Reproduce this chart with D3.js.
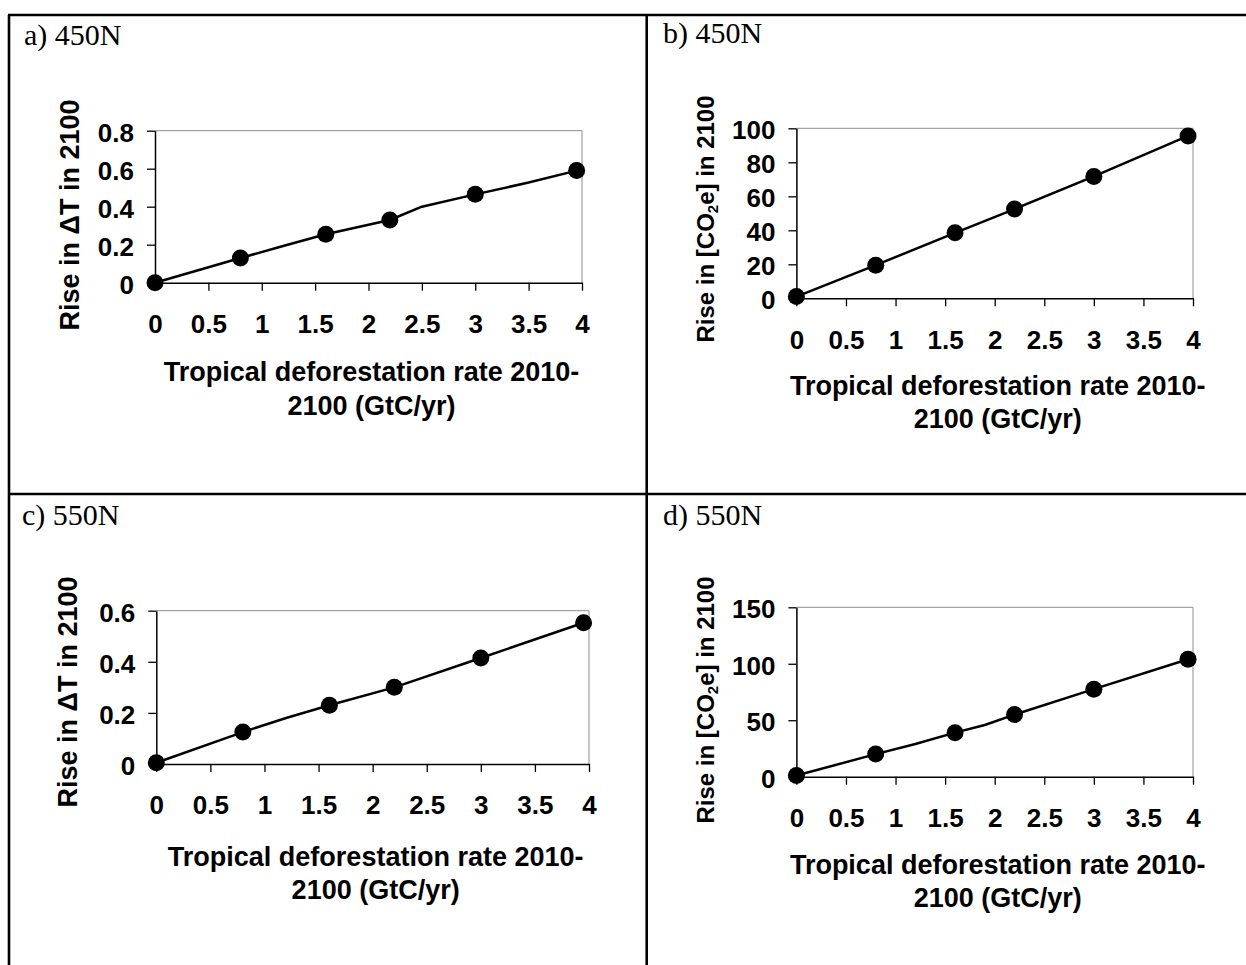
<!DOCTYPE html>
<html>
<head>
<meta charset="utf-8">
<script src="https://cdn.jsdelivr.net/npm/d3@7"></script>
<style>
  body { margin: 0; background: #fff; }
  svg { display: block; }
</style>
</head>
<body>
<div id="chart"></div>
<script>
// Deforestation rate vs. rise in temperature / CO2e, 450N and 550N scenarios

const RATE = [0, 0.8, 1.6, 2.2, 3, 3.95];
const DT_450N  = [0, 0.13, 0.255, 0.33, 0.465, 0.59];
const CO2_450N = [1, 19.5, 38.5, 52.5, 71.7, 95.5];
const DT_550N  = [0.005, 0.125, 0.23, 0.30, 0.415, 0.553];
const CO2_550N = [1, 20, 39, 55, 77.5, 104];

// bends of the drawn line between markers [rate, value]
const BENDS_DT_450N  = [[1.2, 0.193], [2.5, 0.4], [3.5, 0.527]];
const BENDS_CO2_450N = [];
const BENDS_DT_550N  = [[1.2, 0.18]];
const BENDS_CO2_550N = [[1.2, 28.9], [1.9, 45.8]];

const X_TICKS = [0, 0.5, 1, 1.5, 2, 2.5, 3, 3.5, 4];
const Y_TICKS_DT_450N  = [0, 0.2, 0.4, 0.6, 0.8];
const Y_TICKS_CO2_450N = [0, 20, 40, 60, 80, 100];
const Y_TICKS_DT_550N  = [0, 0.2, 0.4, 0.6];
const Y_TICKS_CO2_550N = [0, 50, 100, 150];

const PANEL_LABELS = ['a) 450N', 'b) 450N', 'c) 550N', 'd) 550N'];
const X_TITLE = ['Tropical deforestation rate 2010-', '2100 (GtC/yr)'];

const W = 1246, H = 965;
const SANS = '"Liberation Sans", Arial, sans-serif';
const SERIF = '"Liberation Serif", "Times New Roman", serif';
const fmt = d3.format('~g');

const svg = d3.select('#chart').append('svg')
  .attr('width', W).attr('height', H);

// table borders
svg.append('path')
  .attr('d', 'M8,15H1246M9,15V965M646.7,15V965M8,494H1246')
  .attr('fill', 'none').attr('stroke', '#000').attr('stroke-width', 2.6);

const panels = [
  { label: PANEL_LABELS[0], lx: 24,  ly: 45,  vals: DT_450N,  bends: BENDS_DT_450N,  yTicks: Y_TICKS_DT_450N,
    x0: 155,   x1: 582,  y0: 130.7, y1: 282.7, yt: 'dt',  ytx: 79,  yty: 215, xt1: 98, xt2: 132 },
  { label: PANEL_LABELS[1], lx: 663, ly: 43,  vals: CO2_450N, bends: BENDS_CO2_450N, yTicks: Y_TICKS_CO2_450N,
    x0: 796.4, x1: 1193, y0: 128.3, y1: 298.3, yt: 'co2', ytx: 714, yty: 219, xt1: 97, xt2: 130 },
  { label: PANEL_LABELS[2], lx: 22,  ly: 525, vals: DT_550N,  bends: BENDS_DT_550N,  yTicks: Y_TICKS_DT_550N,
    x0: 156.3, x1: 589,  y0: 610.7, y1: 764,   yt: 'dt',  ytx: 77,  yty: 692, xt1: 102, xt2: 135 },
  { label: PANEL_LABELS[3], lx: 663, ly: 525, vals: CO2_550N, bends: BENDS_CO2_550N, yTicks: Y_TICKS_CO2_550N,
    x0: 796.4, x1: 1193, y0: 607.3, y1: 776.7, yt: 'co2', ytx: 714, yty: 700, xt1: 97, xt2: 130 },
];

function drawPanel(p) {
  const g = svg.append('g');

  g.append('text')
    .attr('x', p.lx).attr('y', p.ly)
    .attr('font-family', SERIF).attr('font-size', 30)
    .text(p.label);

  const x = d3.scaleLinear().domain([0, 4]).range([p.x0, p.x1]);
  const y = d3.scaleLinear().domain([0, d3.max(p.yTicks)]).range([p.y1, p.y0]);

  // plot area frame (grey top + right)
  g.append('path')
    .attr('d', `M${p.x0},${p.y0}H${p.x1}V${p.y1}`)
    .attr('fill', 'none').attr('stroke', '#8c8c8c').attr('stroke-width', 1);

  const xAx = g.append('g')
    .attr('transform', `translate(0,${p.y1})`)
    .call(d3.axisBottom(x).tickValues(X_TICKS).tickFormat(fmt)
      .tickSize(8).tickSizeOuter(0).tickPadding(24));

  const yAx = g.append('g')
    .attr('transform', `translate(${p.x0},0)`)
    .call(d3.axisLeft(y).tickValues(p.yTicks).tickFormat(fmt)
      .tickSize(8).tickSizeOuter(0).tickPadding(13));

  for (const ax of [xAx, yAx]) {
    ax.select('.domain').attr('stroke', '#000').attr('stroke-width', 1.5);
    ax.selectAll('.tick line').attr('stroke', '#000').attr('stroke-width', 1.3);
    ax.selectAll('.tick text')
      .attr('fill', '#000').attr('font-family', SANS)
      .attr('font-size', 26).attr('font-weight', 'bold');
  }
  yAx.selectAll('.tick text').attr('dy', '0.4em');

  // series line (markers + bends) and markers
  const pts = RATE.map((r, i) => [r, p.vals[i]]).concat(p.bends)
    .sort((a, b) => a[0] - b[0]);
  g.append('path')
    .attr('d', d3.line().x(d => x(d[0])).y(d => y(d[1]))(pts))
    .attr('fill', 'none').attr('stroke', '#000').attr('stroke-width', 2.5)
    .attr('stroke-linejoin', 'round');

  g.selectAll('circle.pt')
    .data(RATE.map((r, i) => [r, p.vals[i]]))
    .join('circle')
    .attr('class', 'pt')
    .attr('cx', d => x(d[0])).attr('cy', d => y(d[1]))
    .attr('r', 8.5).attr('fill', '#000');

  // x title, two lines
  const cx = (p.x0 + p.x1) / 2 + 3;
  [p.xt1, p.xt2].forEach((dy, i) => {
    g.append('text')
      .attr('x', cx).attr('y', p.y1 + dy)
      .attr('text-anchor', 'middle')
      .attr('font-family', SANS).attr('font-size', 27).attr('font-weight', 'bold')
      .text(X_TITLE[i]);
  });

  // y title
  const yt = g.append('text')
    .attr('transform', `translate(${p.ytx},${p.yty}) rotate(-90)`)
    .attr('text-anchor', 'middle')
    .attr('font-family', SANS).attr('font-weight', 'bold');
  if (p.yt === 'dt') {
    yt.attr('font-size', 27).text('Rise in \u0394T in 2100');
  } else {
    yt.attr('font-size', 24);
    yt.append('tspan').text('Rise in [CO');
    yt.append('tspan').attr('font-size', 15).attr('dy', 4).text('2');
    yt.append('tspan').attr('dy', -4).text('e] in 2100');
  }
}

panels.forEach(drawPanel);
</script>
</body>
</html>
